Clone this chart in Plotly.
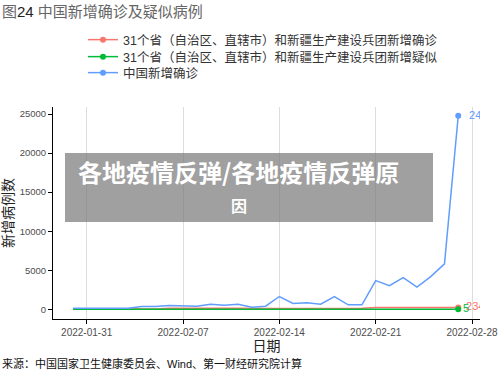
import plotly.graph_objects as go
import pandas as pd

# ---------------- data ----------------
dates = pd.date_range("2022-01-30", "2022-02-27").strftime("%Y-%m-%d").tolist()

confirmed_31 = [58, 50, 45, 40, 42, 45, 48, 130, 150, 120, 100, 140, 130, 70, 90,
                110, 100, 95, 90, 110, 120, 130, 230, 240, 250, 230, 240, 260, 234]
suspected_31 = [4, 3, 5, 2, 3, 4, 6, 5, 3, 7, 6, 4, 3, 5, 8, 6, 5, 4, 3, 6,
                5, 4, 7, 6, 5, 3, 4, 6, 5]
confirmed_cn = [130, 120, 110, 100, 140, 360, 360, 490, 480, 400, 660, 530, 660, 280, 400,
                1640, 745, 830, 660, 1640, 575, 575, 3680, 3020, 4050, 2840, 4190, 5820, 24780]

series_names = ["31个省（自治区、直辖市）和新疆生产建设兵团新增确诊",
                "31个省（自治区、直辖市）和新疆生产建设兵团新增疑似",
                "中国新增确诊"]
series_values = [confirmed_31, suspected_31, confirmed_cn]
series_colors = ["#F8766D", "#00BA38", "#619CFF"]
label_prefix = ["\u00a0", "", "\u00a0\u00a0"]

tick_dates = ["2022-01-31", "2022-02-07", "2022-02-14", "2022-02-21", "2022-02-28"]
y_ticks = [0, 5000, 10000, 15000, 20000, 25000]

title_text = "图<span style='color:#222222'>24</span> 中国新增确诊及疑似病例"
source_text = "来源：中国国家卫生健康委员会、Wind、第一财经研究院计算"
overlay_line1 = "各地疫情反弹/各地疫情反弹原"
overlay_line2 = "因"

# ---------------- layout geometry (pixels) ----------------
W, H = 500, 375
L, R, T, B = 53, 480, 107, 319
pw, ph = R - L, B - T

def px_x(p):
    return (p - L) / pw

def px_y(p):
    return (B - p) / ph

FONT = "Liberation Sans, Arial, Noto Sans CJK SC, sans-serif"

legend_ids = ["legend", "legend2", "legend3"]
legend_rows = [40, 57, 73]

fig = go.Figure()
n = len(dates)
for name, vals, col, pre, lg in zip(series_names, series_values, series_colors,
                                    label_prefix, legend_ids):
    texts = [""] * (n - 1) + [pre + str(vals[-1])]
    fig.add_trace(go.Scatter(
        x=dates, y=vals, name=name, legend=lg,
        mode="lines+markers+text",
        line=dict(color=col, width=1.5),
        marker=dict(color=col, size=6),
        text=texts, textposition="middle right",
        textfont=dict(color=col, size=11, family=FONT),
        selectedpoints=[n - 1],
        unselected=dict(marker=dict(opacity=0)),
        cliponaxis=True,
        hoverinfo="x+y+name",
    ))

left = pd.Timestamp("2022-01-31") - pd.Timedelta(days=2.449)
right = left + pd.Timedelta(days=31.03)

legend_common = dict(xanchor="left", yanchor="middle", bgcolor="rgba(0,0,0,0)",
                     font=dict(size=12.5, color="#333333", family=FONT))

fig.update_layout(
    width=W, height=H,
    margin=dict(l=L, r=W - R, t=T, b=H - B, autoexpand=False),
    paper_bgcolor="white", plot_bgcolor="white",
    font=dict(family=FONT, color="#333333"),
    title=dict(text=title_text, x=2 / W, xanchor="left", y=1 - 12 / H, yanchor="middle",
               xref="container", yref="container",
               font=dict(size=15, color="#666666", family=FONT)),
    showlegend=True,
    legend=dict(x=px_x(83), y=px_y(legend_rows[0]), **legend_common),
    legend2=dict(x=px_x(83), y=px_y(legend_rows[1]), **legend_common),
    legend3=dict(x=px_x(83), y=px_y(legend_rows[2]), **legend_common),
    xaxis=dict(type="date", range=[left.strftime("%Y-%m-%d %H:%M:%S"),
                                   right.strftime("%Y-%m-%d %H:%M:%S")],
               tickvals=tick_dates, ticktext=tick_dates, automargin=False,
               showgrid=True, gridcolor="#dcdcdc", gridwidth=1,
               showline=True, linecolor="black", linewidth=1,
               ticks="outside", ticklen=4, tickcolor="black",
               tickfont=dict(size=10, color="#4d4d4d", family=FONT),
               zeroline=False,
               title=dict(text="日期", font=dict(size=14, color="#222222", family=FONT), standoff=1)),
    yaxis=dict(range=[-1240, 25900], tickvals=y_ticks, tickformat="d", automargin=False,
               showgrid=False, zeroline=False,
               showline=True, linecolor="black", linewidth=1,
               ticks="outside", ticklen=4, tickcolor="black",
               tickfont=dict(size=9.5, color="#4d4d4d", family=FONT),
               title=dict(text="新增病例数", font=dict(size=14, color="#222222", family=FONT), standoff=4)),
)

fig.add_shape(type="rect", xref="paper", yref="paper",
              x0=px_x(65), x1=px_x(433), y0=px_y(222), y1=px_y(153),
              fillcolor="rgba(120,120,120,0.7)", line=dict(width=0), layer="above")

fig.add_annotation(text="<b>" + overlay_line1 + "</b>", xref="paper", yref="paper",
                   x=px_x(238), y=px_y(171), xanchor="center", yanchor="middle",
                   showarrow=False, font=dict(size=24, color="white", family="Noto Sans CJK SC"))
fig.add_annotation(text="<b>" + overlay_line2 + "</b>", xref="paper", yref="paper",
                   x=px_x(239), y=px_y(205), xanchor="center", yanchor="middle",
                   showarrow=False, font=dict(size=16, color="white", family="Noto Sans CJK SC"))
fig.add_annotation(text=source_text, xref="paper", yref="paper",
                   x=px_x(0), y=px_y(363), xanchor="left", yanchor="middle",
                   showarrow=False, font=dict(size=11, color="#111111", family=FONT))

fig.write_html("out.html")
